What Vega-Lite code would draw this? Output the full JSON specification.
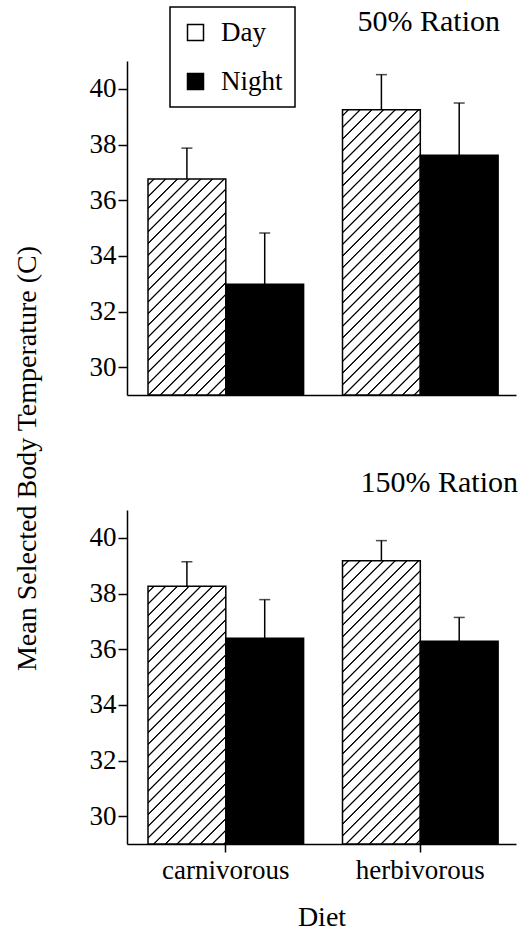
{
  "$schema": "https://vega.github.io/schema/vega-lite/v6.json",
  "padding": {"left": 13, "top": 6, "right": 0, "bottom": 0},
  "background": "white",
  "config": {
    "font": "Liberation Serif",
    "view": {"stroke": null},
    "axis": {"domainColor": "black", "domainWidth": 1.5, "tickColor": "black", "tickWidth": 1.5, "labelColor": "black", "labelFontSize": 27, "titleFontSize": 28, "titleFontWeight": "normal", "titleColor": "black", "grid": false, "labelFont": "Liberation Serif", "titleFont": "Liberation Serif"},
    "title": {"fontSize": 30, "fontWeight": "normal", "anchor": "end", "color": "black", "font": "Liberation Serif", "frame": "group", "baseline": "alphabetic"}
  },
  "data": {"values": [
    {"ration": "50%", "diet": "carnivorous", "time": "Day", "temp": 36.76, "upper": 37.87},
    {"ration": "50%", "diet": "carnivorous", "time": "Night", "temp": 32.98, "upper": 34.82},
    {"ration": "50%", "diet": "herbivorous", "time": "Day", "temp": 39.25, "upper": 40.51},
    {"ration": "50%", "diet": "herbivorous", "time": "Night", "temp": 37.61, "upper": 39.49},
    {"ration": "150%", "diet": "carnivorous", "time": "Day", "temp": 38.26, "upper": 39.14},
    {"ration": "150%", "diet": "carnivorous", "time": "Night", "temp": 36.39, "upper": 37.78},
    {"ration": "150%", "diet": "herbivorous", "time": "Day", "temp": 39.18, "upper": 39.90},
    {"ration": "150%", "diet": "herbivorous", "time": "Night", "temp": 36.28, "upper": 37.14}
  ]},
  "spacing": 115,
  "bounds": "flush",
  "resolve": {"scale": {"fill": "shared"}},
  "vconcat": [
    {
      "width": 389, "height": 334,
      "title": {"text": "50% Ration", "offset": 24, "dx": -16},
      "transform": [{"filter": "datum.ration === '50%'"}],
      "encoding": {
        "x": {"field": "diet", "type": "nominal", "scale": {"paddingInner": 0.2, "paddingOuter": 0.1, "align": 0.54}, "axis": {"labels": false, "ticks": false, "title": null}},
        "xOffset": {"field": "time", "type": "nominal", "scale": {"domain": ["Day", "Night"], "paddingInner": 0, "paddingOuter": 0}}
      },
      "layer": [
        {
          "mark": {"type": "bar", "stroke": "black", "strokeWidth": 1.5},
          "encoding": {
            "y": {"field": "temp", "type": "quantitative", "title": "Mean Selected Body Temperature (C)", "scale": {"domain": [29, 41], "nice": false, "zero": false}, "axis": {"values": [30, 32, 34, 36, 38, 40], "tickSize": 9, "labelPadding": 2, "titleX": -92, "titleY": 397, "titleAngle": -90, "titleBaseline": "alphabetic", "titleAlign": "center"}},
            "y2": {"datum": 29},
            "fill": {
              "field": "time", "type": "nominal",
              "scale": {"domain": ["Day", "Night"], "range": ["white", "black"]},
              "legend": {
                "title": null, "orient": "none", "legendX": 43, "legendY": -54,
                "symbolType": "square", "symbolSize": 256, "symbolStrokeColor": "black", "symbolStrokeWidth": 1.5,
                "labelFontSize": 27, "labelFont": "Liberation Serif", "labelColor": "black", "labelOffset": 12,
                "rowPadding": 21, "padding": 12, "strokeColor": "black", "fillColor": "white",
                "encode": {"legend": {"update": {"strokeWidth": {"value": 1.5}}}}
              },
              "condition": [
                {"test": "datum.time === 'Day' && datum.diet === 'carnivorous'", "value": {"gradient": "linear", "x1": 0, "y1": 0, "x2": 0.5904, "y2": 1.6392, "stops": [
                  {"offset":0.0115,"color":"#fff"},{"offset":0.014,"color":"#000"},{"offset":0.016,"color":"#000"},{"offset":0.0185,"color":"#fff"},
                  {"offset":0.04075,"color":"#fff"},{"offset":0.04325,"color":"#000"},{"offset":0.04525,"color":"#000"},{"offset":0.04775,"color":"#fff"},
                  {"offset":0.07,"color":"#fff"},{"offset":0.0725,"color":"#000"},{"offset":0.0745,"color":"#000"},{"offset":0.077,"color":"#fff"},
                  {"offset":0.09925,"color":"#fff"},{"offset":0.10175,"color":"#000"},{"offset":0.10375,"color":"#000"},{"offset":0.10625,"color":"#fff"},
                  {"offset":0.1285,"color":"#fff"},{"offset":0.131,"color":"#000"},{"offset":0.133,"color":"#000"},{"offset":0.1355,"color":"#fff"},
                  {"offset":0.15775,"color":"#fff"},{"offset":0.16025,"color":"#000"},{"offset":0.16225,"color":"#000"},{"offset":0.16475,"color":"#fff"},
                  {"offset":0.187,"color":"#fff"},{"offset":0.1895,"color":"#000"},{"offset":0.1915,"color":"#000"},{"offset":0.194,"color":"#fff"},
                  {"offset":0.21625,"color":"#fff"},{"offset":0.21875,"color":"#000"},{"offset":0.22075,"color":"#000"},{"offset":0.22325,"color":"#fff"},
                  {"offset":0.2455,"color":"#fff"},{"offset":0.248,"color":"#000"},{"offset":0.25,"color":"#000"},{"offset":0.2525,"color":"#fff"},
                  {"offset":0.27475,"color":"#fff"},{"offset":0.27725,"color":"#000"},{"offset":0.27925,"color":"#000"},{"offset":0.28175,"color":"#fff"},
                  {"offset":0.304,"color":"#fff"},{"offset":0.3065,"color":"#000"},{"offset":0.3085,"color":"#000"},{"offset":0.311,"color":"#fff"},
                  {"offset":0.33325,"color":"#fff"},{"offset":0.33575,"color":"#000"},{"offset":0.33775,"color":"#000"},{"offset":0.34025,"color":"#fff"},
                  {"offset":0.3625,"color":"#fff"},{"offset":0.365,"color":"#000"},{"offset":0.367,"color":"#000"},{"offset":0.3695,"color":"#fff"},
                  {"offset":0.39175,"color":"#fff"},{"offset":0.39425,"color":"#000"},{"offset":0.39625,"color":"#000"},{"offset":0.39875,"color":"#fff"},
                  {"offset":0.421,"color":"#fff"},{"offset":0.4235,"color":"#000"},{"offset":0.4255,"color":"#000"},{"offset":0.428,"color":"#fff"},
                  {"offset":0.45025,"color":"#fff"},{"offset":0.45275,"color":"#000"},{"offset":0.45475,"color":"#000"},{"offset":0.45725,"color":"#fff"},
                  {"offset":0.4795,"color":"#fff"},{"offset":0.482,"color":"#000"},{"offset":0.484,"color":"#000"},{"offset":0.4865,"color":"#fff"},
                  {"offset":0.50875,"color":"#fff"},{"offset":0.51125,"color":"#000"},{"offset":0.51325,"color":"#000"},{"offset":0.51575,"color":"#fff"},
                  {"offset":0.538,"color":"#fff"},{"offset":0.5405,"color":"#000"},{"offset":0.5425,"color":"#000"},{"offset":0.545,"color":"#fff"},
                  {"offset":0.56725,"color":"#fff"},{"offset":0.56975,"color":"#000"},{"offset":0.57175,"color":"#000"},{"offset":0.57425,"color":"#fff"},
                  {"offset":0.5965,"color":"#fff"},{"offset":0.599,"color":"#000"},{"offset":0.601,"color":"#000"},{"offset":0.6035,"color":"#fff"},
                  {"offset":0.62575,"color":"#fff"},{"offset":0.62825,"color":"#000"},{"offset":0.63025,"color":"#000"},{"offset":0.63275,"color":"#fff"},
                  {"offset":0.655,"color":"#fff"},{"offset":0.6575,"color":"#000"},{"offset":0.6595,"color":"#000"},{"offset":0.662,"color":"#fff"},
                  {"offset":0.68425,"color":"#fff"},{"offset":0.68675,"color":"#000"},{"offset":0.68875,"color":"#000"},{"offset":0.69125,"color":"#fff"},
                  {"offset":0.7135,"color":"#fff"},{"offset":0.716,"color":"#000"},{"offset":0.718,"color":"#000"},{"offset":0.7205,"color":"#fff"}
                ]}},
                {"test": "datum.time === 'Day' && datum.diet === 'herbivorous'", "value": {"gradient": "linear", "x1": 0, "y1": 0, "x2": 0.3559, "y2": 1.3050, "stops": [
                  {"offset":0.0115,"color":"#fff"},{"offset":0.014,"color":"#000"},{"offset":0.016,"color":"#000"},{"offset":0.0185,"color":"#fff"},
                  {"offset":0.04075,"color":"#fff"},{"offset":0.04325,"color":"#000"},{"offset":0.04525,"color":"#000"},{"offset":0.04775,"color":"#fff"},
                  {"offset":0.07,"color":"#fff"},{"offset":0.0725,"color":"#000"},{"offset":0.0745,"color":"#000"},{"offset":0.077,"color":"#fff"},
                  {"offset":0.09925,"color":"#fff"},{"offset":0.10175,"color":"#000"},{"offset":0.10375,"color":"#000"},{"offset":0.10625,"color":"#fff"},
                  {"offset":0.1285,"color":"#fff"},{"offset":0.131,"color":"#000"},{"offset":0.133,"color":"#000"},{"offset":0.1355,"color":"#fff"},
                  {"offset":0.15775,"color":"#fff"},{"offset":0.16025,"color":"#000"},{"offset":0.16225,"color":"#000"},{"offset":0.16475,"color":"#fff"},
                  {"offset":0.187,"color":"#fff"},{"offset":0.1895,"color":"#000"},{"offset":0.1915,"color":"#000"},{"offset":0.194,"color":"#fff"},
                  {"offset":0.21625,"color":"#fff"},{"offset":0.21875,"color":"#000"},{"offset":0.22075,"color":"#000"},{"offset":0.22325,"color":"#fff"},
                  {"offset":0.2455,"color":"#fff"},{"offset":0.248,"color":"#000"},{"offset":0.25,"color":"#000"},{"offset":0.2525,"color":"#fff"},
                  {"offset":0.27475,"color":"#fff"},{"offset":0.27725,"color":"#000"},{"offset":0.27925,"color":"#000"},{"offset":0.28175,"color":"#fff"},
                  {"offset":0.304,"color":"#fff"},{"offset":0.3065,"color":"#000"},{"offset":0.3085,"color":"#000"},{"offset":0.311,"color":"#fff"},
                  {"offset":0.33325,"color":"#fff"},{"offset":0.33575,"color":"#000"},{"offset":0.33775,"color":"#000"},{"offset":0.34025,"color":"#fff"},
                  {"offset":0.3625,"color":"#fff"},{"offset":0.365,"color":"#000"},{"offset":0.367,"color":"#000"},{"offset":0.3695,"color":"#fff"},
                  {"offset":0.39175,"color":"#fff"},{"offset":0.39425,"color":"#000"},{"offset":0.39625,"color":"#000"},{"offset":0.39875,"color":"#fff"},
                  {"offset":0.421,"color":"#fff"},{"offset":0.4235,"color":"#000"},{"offset":0.4255,"color":"#000"},{"offset":0.428,"color":"#fff"},
                  {"offset":0.45025,"color":"#fff"},{"offset":0.45275,"color":"#000"},{"offset":0.45475,"color":"#000"},{"offset":0.45725,"color":"#fff"},
                  {"offset":0.4795,"color":"#fff"},{"offset":0.482,"color":"#000"},{"offset":0.484,"color":"#000"},{"offset":0.4865,"color":"#fff"},
                  {"offset":0.50875,"color":"#fff"},{"offset":0.51125,"color":"#000"},{"offset":0.51325,"color":"#000"},{"offset":0.51575,"color":"#fff"},
                  {"offset":0.538,"color":"#fff"},{"offset":0.5405,"color":"#000"},{"offset":0.5425,"color":"#000"},{"offset":0.545,"color":"#fff"},
                  {"offset":0.56725,"color":"#fff"},{"offset":0.56975,"color":"#000"},{"offset":0.57175,"color":"#000"},{"offset":0.57425,"color":"#fff"},
                  {"offset":0.5965,"color":"#fff"},{"offset":0.599,"color":"#000"},{"offset":0.601,"color":"#000"},{"offset":0.6035,"color":"#fff"},
                  {"offset":0.62575,"color":"#fff"},{"offset":0.62825,"color":"#000"},{"offset":0.63025,"color":"#000"},{"offset":0.63275,"color":"#fff"},
                  {"offset":0.655,"color":"#fff"},{"offset":0.6575,"color":"#000"},{"offset":0.6595,"color":"#000"},{"offset":0.662,"color":"#fff"},
                  {"offset":0.68425,"color":"#fff"},{"offset":0.68675,"color":"#000"},{"offset":0.68875,"color":"#000"},{"offset":0.69125,"color":"#fff"},
                  {"offset":0.7135,"color":"#fff"},{"offset":0.716,"color":"#000"},{"offset":0.718,"color":"#000"},{"offset":0.7205,"color":"#fff"},
                  {"offset":0.74275,"color":"#fff"},{"offset":0.74525,"color":"#000"},{"offset":0.74725,"color":"#000"},{"offset":0.74975,"color":"#fff"},
                  {"offset":0.772,"color":"#fff"},{"offset":0.7745,"color":"#000"},{"offset":0.7765,"color":"#000"},{"offset":0.779,"color":"#fff"},
                  {"offset":0.80125,"color":"#fff"},{"offset":0.80375,"color":"#000"},{"offset":0.80575,"color":"#000"},{"offset":0.80825,"color":"#fff"},
                  {"offset":0.8305,"color":"#fff"},{"offset":0.833,"color":"#000"},{"offset":0.835,"color":"#000"},{"offset":0.8375,"color":"#fff"},
                  {"offset":0.85975,"color":"#fff"},{"offset":0.86225,"color":"#000"},{"offset":0.86425,"color":"#000"},{"offset":0.86675,"color":"#fff"},
                  {"offset":0.889,"color":"#fff"},{"offset":0.8915,"color":"#000"},{"offset":0.8935,"color":"#000"},{"offset":0.896,"color":"#fff"}
                ]}}
              ]
            }
          }
        },
        {
          "mark": {"type": "rule", "color": "black", "strokeWidth": 1.5},
          "encoding": {"y": {"field": "temp", "type": "quantitative", "title": "Mean Selected Body Temperature (C)"}, "y2": {"field": "upper"}}
        },
        {
          "mark": {"type": "tick", "orient": "horizontal", "size": 11, "thickness": 1.5, "color": "black"},
          "encoding": {"y": {"field": "upper", "type": "quantitative", "title": "Mean Selected Body Temperature (C)"}}
        }
      ]
    },
    {
      "width": 389, "height": 334,
      "title": {"text": "150% Ration", "offset": 12, "dx": 2},
      "transform": [{"filter": "datum.ration === '150%'"}],
      "encoding": {
        "x": {"field": "diet", "type": "nominal", "scale": {"paddingInner": 0.2, "paddingOuter": 0.1, "align": 0.54}, "axis": {"title": "Diet", "labelAngle": 0, "tickSize": 8, "labelPadding": 5, "titlePadding": 20}},
        "xOffset": {"field": "time", "type": "nominal", "scale": {"domain": ["Day", "Night"], "paddingInner": 0, "paddingOuter": 0}}
      },
      "layer": [
        {
          "mark": {"type": "bar", "stroke": "black", "strokeWidth": 1.5},
          "encoding": {
            "y": {"field": "temp", "type": "quantitative", "title": null, "scale": {"domain": [29, 41], "nice": false, "zero": false}, "axis": {"values": [30, 32, 34, 36, 38, 40], "tickSize": 9, "labelPadding": 2}},
            "y2": {"datum": 29},
            "fill": {
              "field": "time", "type": "nominal",
              "scale": {"domain": ["Day", "Night"], "range": ["white", "black"]},
              "legend": null,
              "condition": [
                {"test": "datum.time === 'Day' && datum.diet === 'carnivorous'", "value": {"gradient": "linear", "x1": 0, "y1": 0, "x2": 0.4295, "y2": 1.4225, "stops": [
                  {"offset":0.0115,"color":"#fff"},{"offset":0.014,"color":"#000"},{"offset":0.016,"color":"#000"},{"offset":0.0185,"color":"#fff"},
                  {"offset":0.04075,"color":"#fff"},{"offset":0.04325,"color":"#000"},{"offset":0.04525,"color":"#000"},{"offset":0.04775,"color":"#fff"},
                  {"offset":0.07,"color":"#fff"},{"offset":0.0725,"color":"#000"},{"offset":0.0745,"color":"#000"},{"offset":0.077,"color":"#fff"},
                  {"offset":0.09925,"color":"#fff"},{"offset":0.10175,"color":"#000"},{"offset":0.10375,"color":"#000"},{"offset":0.10625,"color":"#fff"},
                  {"offset":0.1285,"color":"#fff"},{"offset":0.131,"color":"#000"},{"offset":0.133,"color":"#000"},{"offset":0.1355,"color":"#fff"},
                  {"offset":0.15775,"color":"#fff"},{"offset":0.16025,"color":"#000"},{"offset":0.16225,"color":"#000"},{"offset":0.16475,"color":"#fff"},
                  {"offset":0.187,"color":"#fff"},{"offset":0.1895,"color":"#000"},{"offset":0.1915,"color":"#000"},{"offset":0.194,"color":"#fff"},
                  {"offset":0.21625,"color":"#fff"},{"offset":0.21875,"color":"#000"},{"offset":0.22075,"color":"#000"},{"offset":0.22325,"color":"#fff"},
                  {"offset":0.2455,"color":"#fff"},{"offset":0.248,"color":"#000"},{"offset":0.25,"color":"#000"},{"offset":0.2525,"color":"#fff"},
                  {"offset":0.27475,"color":"#fff"},{"offset":0.27725,"color":"#000"},{"offset":0.27925,"color":"#000"},{"offset":0.28175,"color":"#fff"},
                  {"offset":0.304,"color":"#fff"},{"offset":0.3065,"color":"#000"},{"offset":0.3085,"color":"#000"},{"offset":0.311,"color":"#fff"},
                  {"offset":0.33325,"color":"#fff"},{"offset":0.33575,"color":"#000"},{"offset":0.33775,"color":"#000"},{"offset":0.34025,"color":"#fff"},
                  {"offset":0.3625,"color":"#fff"},{"offset":0.365,"color":"#000"},{"offset":0.367,"color":"#000"},{"offset":0.3695,"color":"#fff"},
                  {"offset":0.39175,"color":"#fff"},{"offset":0.39425,"color":"#000"},{"offset":0.39625,"color":"#000"},{"offset":0.39875,"color":"#fff"},
                  {"offset":0.421,"color":"#fff"},{"offset":0.4235,"color":"#000"},{"offset":0.4255,"color":"#000"},{"offset":0.428,"color":"#fff"},
                  {"offset":0.45025,"color":"#fff"},{"offset":0.45275,"color":"#000"},{"offset":0.45475,"color":"#000"},{"offset":0.45725,"color":"#fff"},
                  {"offset":0.4795,"color":"#fff"},{"offset":0.482,"color":"#000"},{"offset":0.484,"color":"#000"},{"offset":0.4865,"color":"#fff"},
                  {"offset":0.50875,"color":"#fff"},{"offset":0.51125,"color":"#000"},{"offset":0.51325,"color":"#000"},{"offset":0.51575,"color":"#fff"},
                  {"offset":0.538,"color":"#fff"},{"offset":0.5405,"color":"#000"},{"offset":0.5425,"color":"#000"},{"offset":0.545,"color":"#fff"},
                  {"offset":0.56725,"color":"#fff"},{"offset":0.56975,"color":"#000"},{"offset":0.57175,"color":"#000"},{"offset":0.57425,"color":"#fff"},
                  {"offset":0.5965,"color":"#fff"},{"offset":0.599,"color":"#000"},{"offset":0.601,"color":"#000"},{"offset":0.6035,"color":"#fff"},
                  {"offset":0.62575,"color":"#fff"},{"offset":0.62825,"color":"#000"},{"offset":0.63025,"color":"#000"},{"offset":0.63275,"color":"#fff"},
                  {"offset":0.655,"color":"#fff"},{"offset":0.6575,"color":"#000"},{"offset":0.6595,"color":"#000"},{"offset":0.662,"color":"#fff"},
                  {"offset":0.68425,"color":"#fff"},{"offset":0.68675,"color":"#000"},{"offset":0.68875,"color":"#000"},{"offset":0.69125,"color":"#fff"},
                  {"offset":0.7135,"color":"#fff"},{"offset":0.716,"color":"#000"},{"offset":0.718,"color":"#000"},{"offset":0.7205,"color":"#fff"},
                  {"offset":0.74275,"color":"#fff"},{"offset":0.74525,"color":"#000"},{"offset":0.74725,"color":"#000"},{"offset":0.74975,"color":"#fff"},
                  {"offset":0.772,"color":"#fff"},{"offset":0.7745,"color":"#000"},{"offset":0.7765,"color":"#000"},{"offset":0.779,"color":"#fff"},
                  {"offset":0.80125,"color":"#fff"},{"offset":0.80375,"color":"#000"},{"offset":0.80575,"color":"#000"},{"offset":0.80825,"color":"#fff"},
                  {"offset":0.8305,"color":"#fff"},{"offset":0.833,"color":"#000"},{"offset":0.835,"color":"#000"},{"offset":0.8375,"color":"#fff"}
                ]}},
                {"test": "datum.time === 'Day' && datum.diet === 'herbivorous'", "value": {"gradient": "linear", "x1": 0, "y1": 0, "x2": 0.3606, "y2": 1.3129, "stops": [
                  {"offset":0.0115,"color":"#fff"},{"offset":0.014,"color":"#000"},{"offset":0.016,"color":"#000"},{"offset":0.0185,"color":"#fff"},
                  {"offset":0.04075,"color":"#fff"},{"offset":0.04325,"color":"#000"},{"offset":0.04525,"color":"#000"},{"offset":0.04775,"color":"#fff"},
                  {"offset":0.07,"color":"#fff"},{"offset":0.0725,"color":"#000"},{"offset":0.0745,"color":"#000"},{"offset":0.077,"color":"#fff"},
                  {"offset":0.09925,"color":"#fff"},{"offset":0.10175,"color":"#000"},{"offset":0.10375,"color":"#000"},{"offset":0.10625,"color":"#fff"},
                  {"offset":0.1285,"color":"#fff"},{"offset":0.131,"color":"#000"},{"offset":0.133,"color":"#000"},{"offset":0.1355,"color":"#fff"},
                  {"offset":0.15775,"color":"#fff"},{"offset":0.16025,"color":"#000"},{"offset":0.16225,"color":"#000"},{"offset":0.16475,"color":"#fff"},
                  {"offset":0.187,"color":"#fff"},{"offset":0.1895,"color":"#000"},{"offset":0.1915,"color":"#000"},{"offset":0.194,"color":"#fff"},
                  {"offset":0.21625,"color":"#fff"},{"offset":0.21875,"color":"#000"},{"offset":0.22075,"color":"#000"},{"offset":0.22325,"color":"#fff"},
                  {"offset":0.2455,"color":"#fff"},{"offset":0.248,"color":"#000"},{"offset":0.25,"color":"#000"},{"offset":0.2525,"color":"#fff"},
                  {"offset":0.27475,"color":"#fff"},{"offset":0.27725,"color":"#000"},{"offset":0.27925,"color":"#000"},{"offset":0.28175,"color":"#fff"},
                  {"offset":0.304,"color":"#fff"},{"offset":0.3065,"color":"#000"},{"offset":0.3085,"color":"#000"},{"offset":0.311,"color":"#fff"},
                  {"offset":0.33325,"color":"#fff"},{"offset":0.33575,"color":"#000"},{"offset":0.33775,"color":"#000"},{"offset":0.34025,"color":"#fff"},
                  {"offset":0.3625,"color":"#fff"},{"offset":0.365,"color":"#000"},{"offset":0.367,"color":"#000"},{"offset":0.3695,"color":"#fff"},
                  {"offset":0.39175,"color":"#fff"},{"offset":0.39425,"color":"#000"},{"offset":0.39625,"color":"#000"},{"offset":0.39875,"color":"#fff"},
                  {"offset":0.421,"color":"#fff"},{"offset":0.4235,"color":"#000"},{"offset":0.4255,"color":"#000"},{"offset":0.428,"color":"#fff"},
                  {"offset":0.45025,"color":"#fff"},{"offset":0.45275,"color":"#000"},{"offset":0.45475,"color":"#000"},{"offset":0.45725,"color":"#fff"},
                  {"offset":0.4795,"color":"#fff"},{"offset":0.482,"color":"#000"},{"offset":0.484,"color":"#000"},{"offset":0.4865,"color":"#fff"},
                  {"offset":0.50875,"color":"#fff"},{"offset":0.51125,"color":"#000"},{"offset":0.51325,"color":"#000"},{"offset":0.51575,"color":"#fff"},
                  {"offset":0.538,"color":"#fff"},{"offset":0.5405,"color":"#000"},{"offset":0.5425,"color":"#000"},{"offset":0.545,"color":"#fff"},
                  {"offset":0.56725,"color":"#fff"},{"offset":0.56975,"color":"#000"},{"offset":0.57175,"color":"#000"},{"offset":0.57425,"color":"#fff"},
                  {"offset":0.5965,"color":"#fff"},{"offset":0.599,"color":"#000"},{"offset":0.601,"color":"#000"},{"offset":0.6035,"color":"#fff"},
                  {"offset":0.62575,"color":"#fff"},{"offset":0.62825,"color":"#000"},{"offset":0.63025,"color":"#000"},{"offset":0.63275,"color":"#fff"},
                  {"offset":0.655,"color":"#fff"},{"offset":0.6575,"color":"#000"},{"offset":0.6595,"color":"#000"},{"offset":0.662,"color":"#fff"},
                  {"offset":0.68425,"color":"#fff"},{"offset":0.68675,"color":"#000"},{"offset":0.68875,"color":"#000"},{"offset":0.69125,"color":"#fff"},
                  {"offset":0.7135,"color":"#fff"},{"offset":0.716,"color":"#000"},{"offset":0.718,"color":"#000"},{"offset":0.7205,"color":"#fff"},
                  {"offset":0.74275,"color":"#fff"},{"offset":0.74525,"color":"#000"},{"offset":0.74725,"color":"#000"},{"offset":0.74975,"color":"#fff"},
                  {"offset":0.772,"color":"#fff"},{"offset":0.7745,"color":"#000"},{"offset":0.7765,"color":"#000"},{"offset":0.779,"color":"#fff"},
                  {"offset":0.80125,"color":"#fff"},{"offset":0.80375,"color":"#000"},{"offset":0.80575,"color":"#000"},{"offset":0.80825,"color":"#fff"},
                  {"offset":0.8305,"color":"#fff"},{"offset":0.833,"color":"#000"},{"offset":0.835,"color":"#000"},{"offset":0.8375,"color":"#fff"},
                  {"offset":0.85975,"color":"#fff"},{"offset":0.86225,"color":"#000"},{"offset":0.86425,"color":"#000"},{"offset":0.86675,"color":"#fff"},
                  {"offset":0.889,"color":"#fff"},{"offset":0.8915,"color":"#000"},{"offset":0.8935,"color":"#000"},{"offset":0.896,"color":"#fff"}
                ]}}
              ]
            }
          }
        },
        {
          "mark": {"type": "rule", "color": "black", "strokeWidth": 1.5},
          "encoding": {"y": {"field": "temp", "type": "quantitative", "title": null}, "y2": {"field": "upper"}}
        },
        {
          "mark": {"type": "tick", "orient": "horizontal", "size": 11, "thickness": 1.5, "color": "black"},
          "encoding": {"y": {"field": "upper", "type": "quantitative", "title": null}}
        }
      ]
    }
  ]
}
